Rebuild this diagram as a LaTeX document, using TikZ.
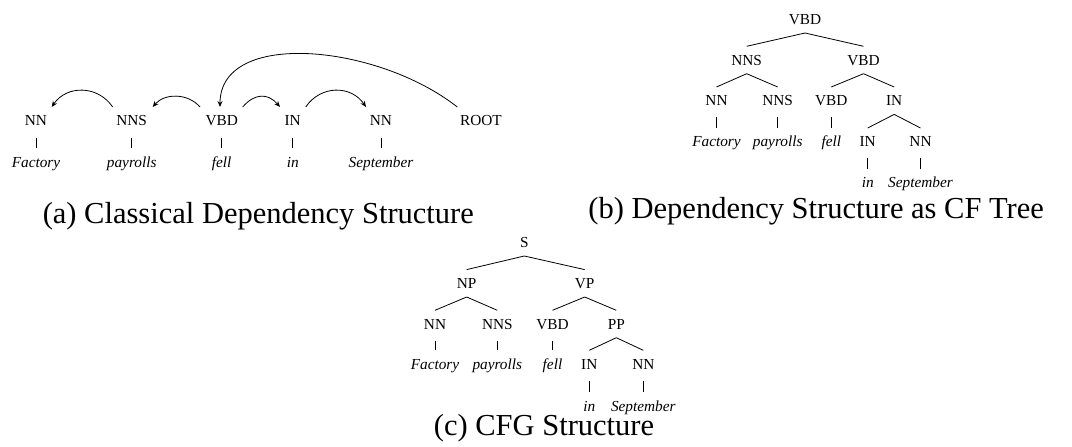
\documentclass[tikz,border=0pt]{standalone}
\usepackage{fontspec}
\setmainfont{Liberation Serif}
\usetikzlibrary{arrows.meta}
\begin{document}
\begin{tikzpicture}[x=1pt,y=-1pt,
  lab/.style={inner xsep=0pt,inner ysep=8.5pt,text height=10pt,text depth=0pt,font=\fontsize{15.3}{18}\selectfont},
  wd/.style={lab,font=\fontsize{15.3}{18}\selectfont\itshape},
  captext/.style={inner sep=0pt,anchor=base,font=\fontsize{30.5}{36}\selectfont},
  treeline/.style={line width=0.8pt},
  bar/.style={line width=0.8pt,shorten <=2.8pt,shorten >=0.5pt},
  dep/.style={line width=0.8pt,-{Stealth[length=6pt,width=5pt]}}]
\useasboundingbox (0,0) rectangle (1072,447);
% ---------- (a)
\node[lab] (a1) at (36,120.7) {NN};
\node[lab] (a2) at (131.7,120.7) {NNS};
\node[lab] (a3) at (221.7,120.7) {VBD};
\node[lab] (a4) at (292.7,120.7) {IN};
\node[lab] (a5) at (381,120.7) {NN};
\node[lab] (a6) at (481,120.7) {ROOT};
\node[wd] (aw1) at (36,162.7) {Factory};
\node[wd] (aw2) at (131.7,162.7) {payrolls};
\node[wd] (aw3) at (221.7,162.7) {fell};
\node[wd] (aw4) at (292.7,162.7) {in};
\node[wd] (aw5) at (381,162.7) {September};
\foreach \i in {1,...,5} {\draw[bar,shorten <=3.5pt,shorten >=1pt] (a\i.south) -- (aw\i.north);}
\draw[dep] ([xshift=-19pt]a2.north) .. controls +(-15,-22) and +(15,-22) .. ([xshift=15.7pt]a1.north);
\draw[dep] ([xshift=-21.7pt]a3.north) .. controls +(-12,-14) and +(12,-14) .. ([xshift=21pt]a2.north);
\draw[dep] ([xshift=21pt]a3.north) .. controls +(12,-14) and +(-12,-14) .. ([xshift=-12.7pt]a4.north);
\draw[dep] ([xshift=13pt]a4.north) .. controls +(15,-22) and +(-15,-22) .. ([xshift=-15pt]a5.north);
\draw[dep] ([xshift=-23.7pt]a6.north) .. controls +(-80,-63) and +(0,-78) .. ([xshift=-1.7pt]a3.north);
\node[captext] (capa) at (258.3,223.3) {(a) Classical Dependency Structure};
% ---------- (b)
\node[lab] (b1) at (805,19.3) {VBD};
\node[lab] (b2) at (746.7,60) {NNS};
\node[lab] (b3) at (863.5,60) {VBD};
\node[lab] (b4) at (716.5,100.7) {NN};
\node[lab] (b5) at (777.7,100.7) {NNS};
\node[lab] (b6) at (831.3,100.7) {VBD};
\node[lab] (b7) at (894.2,100.7) {IN};
\node[wd] (bw4) at (716.5,141.7) {Factory};
\node[wd] (bw5) at (777.7,141.7) {payrolls};
\node[wd] (bw6) at (831.3,141.7) {fell};
\node[lab] (b8) at (867.7,141.7) {IN};
\node[lab] (b9) at (920.5,141.7) {NN};
\node[wd] (bw8) at (867.7,182.7) {in};
\node[wd] (bw9) at (920.5,182.7) {September};
\draw[treeline] (b1.south) -- (b2.north);
\draw[treeline] (b1.south) -- (b3.north);
\draw[treeline] (b2.south) -- (b4.north);
\draw[treeline] (b2.south) -- (b5.north);
\draw[treeline] (b3.south) -- (b6.north);
\draw[treeline] (b3.south) -- (b7.north);
\draw[treeline] (b7.south) -- (b8.north);
\draw[treeline] (b7.south) -- (b9.north);
\draw[bar] (b4.south) -- (bw4.north);
\draw[bar] (b5.south) -- (bw5.north);
\draw[bar] (b6.south) -- (bw6.north);
\draw[bar] (b8.south) -- (bw8.north);
\draw[bar] (b9.south) -- (bw9.north);
\node[captext] (capb) at (816.2,218.3) {(b) Dependency Structure as CF Tree};
% ---------- (c)
\node[lab] (c1) at (524.3,242.3) {S};
\node[lab] (c2) at (466.7,283.3) {NP};
\node[lab] (c3) at (584.7,283.3) {VP};
\node[lab] (c4) at (435,324) {NN};
\node[lab] (c5) at (497.3,324) {NNS};
\node[lab] (c6) at (552.5,324) {VBD};
\node[lab] (c7) at (616.3,324) {PP};
\node[wd] (cw4) at (435,364) {Factory};
\node[wd] (cw5) at (497.3,364) {payrolls};
\node[wd] (cw6) at (552.5,364) {fell};
\node[lab] (c8) at (589.3,364) {IN};
\node[lab] (c9) at (643.3,364) {NN};
\node[wd] (cw8) at (589.3,406) {in};
\node[wd] (cw9) at (643.3,406) {September};
\draw[treeline] (c1.south) -- (c2.north);
\draw[treeline] (c1.south) -- (c3.north);
\draw[treeline] (c2.south) -- (c4.north);
\draw[treeline] (c2.south) -- (c5.north);
\draw[treeline] (c3.south) -- (c6.north);
\draw[treeline] (c3.south) -- (c7.north);
\draw[treeline] (c7.south) -- (c8.north);
\draw[treeline] (c7.south) -- (c9.north);
\draw[bar] (c4.south) -- (cw4.north);
\draw[bar] (c5.south) -- (cw5.north);
\draw[bar] (c6.south) -- (cw6.north);
\draw[bar] (c8.south) -- (cw8.north);
\draw[bar] (c9.south) -- (cw9.north);
\node[captext] (capc) at (544,435) {(c) CFG Structure};
\end{tikzpicture}
\end{document}
